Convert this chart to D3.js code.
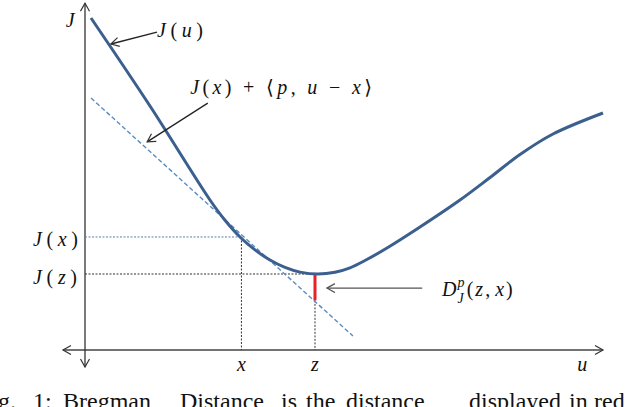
<!DOCTYPE html>
<html><head><meta charset="utf-8">
<script src="https://cdn.jsdelivr.net/npm/d3@7"></script>
<style>html,body{margin:0;padding:0;background:#fff;}svg{display:block;}</style>
</head><body><svg id="c" width="640" height="407" font-family="Liberation Serif, DejaVu Serif, Tinos, serif"></svg>
<script>
// ---- data (u, J) ----
const curveU = [0.116, 1.255, 2.413, 2.703, 2.992, 3.282, 3.571, 3.861, 4.151, 4.498, 4.826, 5.116, 5.405, 5.830, 6.467, 7.239, 7.819, 8.398, 9.035, 10.0];
const curveJ = [9.765, 7.176, 4.412, 3.815, 3.324, 2.944, 2.647, 2.429, 2.291, 2.235, 2.288, 2.418, 2.632, 3.000, 3.618, 4.412, 5.074, 5.750, 6.353, 6.971];
const tangentU = [0.116, 5.173];
const tangentJ = [7.412, 0.412];
const pointX = {u: 3.02, J: 3.324};
const pointZ = {u: 4.44, J: 2.235, Jt: 1.46};
const axisU = [-0.425, 10.0];
const axisJ = [-0.5, 10.2];
const tickLabels = ["x", "z", "u"];
const tickU = [3.02, 4.44, 9.6];

const svg = d3.select("#c");
const x = d3.scaleLinear().domain([0, 10]).range([85, 603]);
const y = d3.scaleLinear().domain([0, 10]).range([350, 10]);

const defs = svg.append("defs");
function marker(id, color) {
  defs.append("marker").attr("id", id).attr("markerUnits", "userSpaceOnUse")
    .attr("markerWidth", 12).attr("markerHeight", 12).attr("refX", 9).attr("refY", 5)
    .attr("orient", "auto-start-reverse").append("path").attr("d", "M1,0.5 L9,5 L1,9.5")
    .attr("fill", "none").attr("stroke", color).attr("stroke-width", 1.2);
}
marker("ak", "#333");
marker("ag", "#555");

// axes
svg.append("line").attr("x1", x(axisU[0])).attr("x2", x(axisU[1])).attr("y1", y(0)).attr("y2", y(0))
  .attr("stroke", "#444").attr("stroke-width", 1.3).attr("marker-end", "url(#ak)").attr("marker-start", "url(#ak)");
svg.append("line").attr("x1", x(0)).attr("x2", x(0)).attr("y1", y(axisJ[0])).attr("y2", y(axisJ[1]))
  .attr("stroke", "#333").attr("stroke-width", 1.3).attr("marker-end", "url(#ak)").attr("marker-start", "url(#ak)");

// dotted guide lines
svg.append("line").attr("x1", x(0)).attr("x2", x(pointX.u)).attr("y1", y(pointX.J)).attr("y2", y(pointX.J))
  .attr("stroke", "#5a82b0").attr("stroke-width", 1).attr("stroke-dasharray", "2,1.5");
svg.append("line").attr("x1", x(pointX.u)).attr("x2", x(pointX.u)).attr("y1", y(pointX.J)).attr("y2", y(0))
  .attr("stroke", "#333").attr("stroke-width", 1).attr("stroke-dasharray", "2,1.5");
svg.append("line").attr("x1", x(0)).attr("x2", x(pointZ.u)).attr("y1", y(pointZ.J)).attr("y2", y(pointZ.J))
  .attr("stroke", "#333").attr("stroke-width", 1.1).attr("stroke-dasharray", "2,1.5");
svg.append("line").attr("x1", x(pointZ.u)).attr("x2", x(pointZ.u)).attr("y1", y(pointZ.Jt)).attr("y2", y(0))
  .attr("stroke", "#333").attr("stroke-width", 1).attr("stroke-dasharray", "2,1.5");

// tangent line
svg.append("line").attr("x1", x(tangentU[0])).attr("x2", x(tangentU[1])).attr("y1", y(tangentJ[0])).attr("y2", y(tangentJ[1]))
  .attr("stroke", "#5a8cc2").attr("stroke-width", 1.4).attr("stroke-dasharray", "4.5,2.5");

// curve
const pts = curveU.map((u, i) => [u, curveJ[i]]);
svg.append("path").datum(pts)
  .attr("d", d3.line().x(d => x(d[0])).y(d => y(d[1])).curve(d3.curveCatmullRom.alpha(0.5)))
  .attr("fill", "none").attr("stroke", "#3b5f8e").attr("stroke-width", 3);

// red Bregman segment
svg.append("line").attr("x1", x(pointZ.u)).attr("x2", x(pointZ.u)).attr("y1", y(pointZ.J) + 1).attr("y2", y(pointZ.Jt))
  .attr("stroke", "#e8202a").attr("stroke-width", 3);

// annotation arrows
function arrow(u1, J1, u2, J2, col, mk) {
  svg.append("line").attr("x1", x(u1)).attr("y1", y(J1)).attr("x2", x(u2)).attr("y2", y(J2))
    .attr("stroke", col).attr("stroke-width", 1.3).attr("marker-end", `url(#${mk})`);
}
arrow(1.39, 9.35, 0.50, 9.0, "#222", "ak");
arrow(2.37, 7.26, 1.20, 6.12, "#222", "ak");
arrow(6.51, 1.82, 4.67, 1.82, "#555", "ag");

// math labels
function mathLabel(px, py, parts, anchor, len, size) {
  const t = svg.append("text").attr("x", px).attr("y", py)
    .attr("font-size", size || 20).attr("fill", "#111").attr("text-anchor", anchor || "start");
  parts.forEach(p => t.append("tspan").text(p[0]).attr("font-style", p[1] ? "italic" : "normal"));
  if (len) t.attr("textLength", len).attr("lengthAdjust", "spacing");
  return t;
}
mathLabel(x(-0.37), y(9.5), [["J", 1]], "start", null, 20);
mathLabel(x(1.39), y(9.21), [["J", 1], ["(", 0], ["u", 1], [")", 0]], "start", 46);
mathLabel(x(2.03), y(7.53), [["J", 1], ["(", 0], ["x", 1], [")", 0], [" + ⟨", 0], ["p", 1], [", ", 0], ["u", 1], [" − ", 0], ["x", 1], ["⟩", 0]], "start", 182);
mathLabel(33, y(pointX.J) + 9, [["J", 1], ["(", 0], ["x", 1], [")", 0]], "start", 45);
mathLabel(33, y(pointZ.J) + 10, [["J", 1], ["(", 0], ["z", 1], [")", 0]], "start", 44);

// tick labels
tickLabels.forEach((s, i) => {
  svg.append("text").attr("x", x(tickU[i])).attr("y", 371).attr("text-anchor", "middle")
    .attr("font-style", "italic").attr("font-size", 20).attr("fill", "#111").text(s);
});

// Bregman distance label
const dl = svg.append("text").attr("x", 442).attr("y", 296).attr("font-size", 20).attr("fill", "#111");
dl.append("tspan").text("D").attr("font-style", "italic");
dl.append("tspan").text("p").attr("font-style", "italic").attr("font-size", 14).attr("dy", -9).attr("dx", 1);
dl.append("tspan").text("J").attr("font-style", "italic").attr("font-size", 14).attr("dy", 16).attr("dx", -7);
dl.append("tspan").text("(").attr("dy", -7).attr("dx", 3);
dl.append("tspan").text("z").attr("font-style", "italic").attr("dx", 2);
dl.append("tspan").text(",").attr("dx", 2);
dl.append("tspan").text("x").attr("font-style", "italic").attr("dx", 5);
dl.append("tspan").text(")").attr("dx", 2);

// caption (cut off at the bottom edge, as in the reference)
const captionWords = ["Fig.", "1:", "Bregman", "Distance", "is", "the", "distance,", "displayed", "in", "red,"];
const captionX = [-22, 33, 63, 180, 281, 306, 346, 469, 569, 594];
captionWords.forEach((w, i) => {
  svg.append("text").attr("x", captionX[i]).attr("y", 409)
    .attr("font-size", 24).attr("fill", "#111").text(w);
});
</script></body></html>
